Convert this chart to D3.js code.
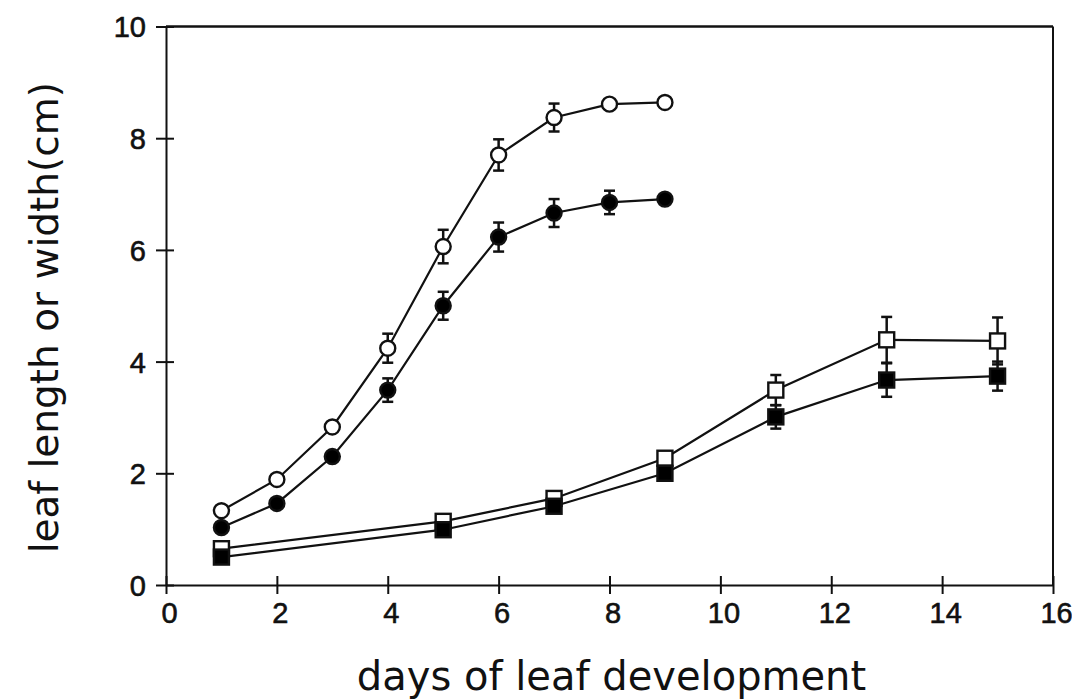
<!DOCTYPE html>
<html>
<head>
<meta charset="utf-8">
<script src="https://cdn.jsdelivr.net/npm/d3@7"></script>
<style>
  html, body { margin: 0; padding: 0; background: #fff; }
  svg { display: block; }
</style>
</head>
<body>
<svg id="chart" width="1072" height="700"></svg>
<script>
// ---- data ----
const circleDays = [1, 2, 3, 4, 5, 6, 7, 8, 9];
const openCircle = [1.33, 1.89, 2.83, 4.24, 6.06, 7.70, 8.37, 8.61, 8.64];
const openCircleErr = [0, 0, 0, 0.26, 0.30, 0.28, 0.25, 0, 0];
const filledCircle = [1.03, 1.46, 2.30, 3.49, 5.00, 6.23, 6.66, 6.85, 6.91];
const filledCircleErr = [0, 0, 0, 0.21, 0.25, 0.26, 0.25, 0.21, 0];
const squareDays = [1, 5, 7, 9, 11, 13, 15];
const openSquare = [0.65, 1.14, 1.55, 2.27, 3.49, 4.39, 4.37];
const openSquareErr = [0, 0, 0, 0, 0.27, 0.41, 0.42];
const filledSquare = [0.50, 0.99, 1.41, 2.00, 3.01, 3.67, 3.74];
const filledSquareErr = [0, 0, 0, 0, 0.21, 0.30, 0.26];
const xTicks = [0, 2, 4, 6, 8, 10, 12, 14, 16];
const yTicks = [0, 2, 4, 6, 8, 10];
const xTitle = "days of leaf development";
const yTitle = "leaf length or width(cm)";

// ---- layout ----
const svg = d3.select("#chart");
const x = d3.scaleLinear().domain([0, 16]).range([166, 1053]);
const y = d3.scaleLinear().domain([0, 10]).range([585, 26.5]);

const series = [
  { days: circleDays, vals: openCircle, errs: openCircleErr, shape: "circle", fill: "#fff" },
  { days: circleDays, vals: filledCircle, errs: filledCircleErr, shape: "circle", fill: "#000" },
  { days: squareDays, vals: openSquare, errs: openSquareErr, shape: "square", fill: "#fff" },
  { days: squareDays, vals: filledSquare, errs: filledSquareErr, shape: "square", fill: "#000" }
];

// frame (top and right)
svg.append("line").attr("x1", x(0)).attr("x2", x(16)).attr("y1", y(10)).attr("y2", y(10))
  .attr("stroke", "#111").attr("stroke-width", 2.4);
svg.append("line").attr("x1", x(16)).attr("x2", x(16)).attr("y1", y(10)).attr("y2", y(0))
  .attr("stroke", "#111").attr("stroke-width", 2);

// axes
const xAxis = svg.append("g").attr("transform", `translate(0,${y(0)})`)
  .call(d3.axisBottom(x).tickValues(xTicks).tickSize(9).tickSizeOuter(0).tickPadding(6));
xAxis.selectAll(".tick line").attr("y1", -9).attr("y2", 9);
const yAxis = svg.append("g").attr("transform", `translate(${x(0)},0)`)
  .call(d3.axisLeft(y).tickValues(yTicks).tickSize(9).tickSizeOuter(0).tickPadding(11));
yAxis.selectAll(".tick line").attr("x1", -10).attr("x2", 8);
[xAxis, yAxis].forEach(a => {
  a.attr("font-size", 29).attr("font-family", "'Liberation Sans', Arial, sans-serif");
  a.select(".domain").attr("stroke", "#111").attr("stroke-width", 2);
  a.selectAll(".tick line").attr("stroke", "#111").attr("stroke-width", 2);
  a.selectAll(".tick text").attr("fill", "#111").attr("font-size", 29)
    .attr("stroke", "#111").attr("stroke-width", 0.6);
});
xAxis.selectAll(".tick text").attr("dy", "0.8em").attr("dx", 3);
yAxis.selectAll(".tick text").attr("dy", "0.36em")
  .attr("font-family", "'Liberation Sans Narrow', 'Liberation Sans', Arial, sans-serif");

// titles
svg.append("text").attr("x", (x(0) + x(16)) / 2 + 2).attr("y", 690)
  .attr("text-anchor", "middle")
  .attr("font-family", "'DejaVu Sans', sans-serif").attr("font-size", 40)
  .attr("fill", "#111").text(xTitle);
svg.append("text").attr("transform", `translate(58,${(y(0) + y(10)) / 2 + 12}) rotate(-90)`)
  .attr("text-anchor", "middle")
  .attr("font-family", "'DejaVu Sans', sans-serif").attr("font-size", 39)
  .attr("fill", "#111").text(yTitle);

const line = d3.line().x(d => x(d[0])).y(d => y(d[1]));

series.forEach(s => {
  const pts = s.days.map((d, i) => [d, s.vals[i], s.errs[i]]);
  const g = svg.append("g");
  // connecting line
  g.append("path").datum(pts).attr("d", line)
    .attr("fill", "none").attr("stroke", "#111").attr("stroke-width", 2.2);
  // error bars
  const eb = g.selectAll(".eb").data(pts.filter(p => p[2] > 0)).join("g");
  eb.append("line").attr("x1", d => x(d[0])).attr("x2", d => x(d[0]))
    .attr("y1", d => y(d[1] - d[2])).attr("y2", d => y(d[1] + d[2]))
    .attr("stroke", "#111").attr("stroke-width", 2.5);
  [-1, 1].forEach(sgn => {
    eb.append("line").attr("x1", d => x(d[0]) - 5.5).attr("x2", d => x(d[0]) + 5.5)
      .attr("y1", d => y(d[1] + sgn * d[2])).attr("y2", d => y(d[1] + sgn * d[2]))
      .attr("stroke", "#111").attr("stroke-width", 2.5);
  });
  // markers
  if (s.shape === "circle") {
    g.selectAll(".m").data(pts).join("circle")
      .attr("cx", d => x(d[0])).attr("cy", d => y(d[1])).attr("r", 7.5)
      .attr("fill", s.fill).attr("stroke", "#111").attr("stroke-width", 2.4);
  } else {
    g.selectAll(".m").data(pts).join("rect")
      .attr("x", d => x(d[0]) - 7.5).attr("y", d => y(d[1]) - 7.5)
      .attr("width", 15).attr("height", 15)
      .attr("fill", s.fill).attr("stroke", "#111").attr("stroke-width", 2.4);
  }
});
</script>
</body>
</html>
